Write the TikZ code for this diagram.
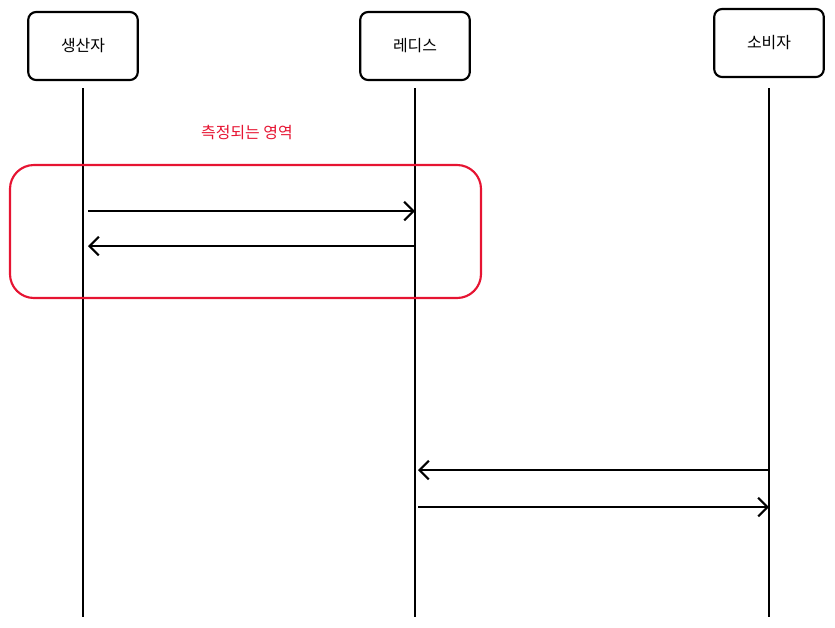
\documentclass[tikz,border=0pt]{standalone}
\usepackage{fontspec}
\setmainfont{Noto Sans CJK KR}
\usetikzlibrary{positioning}
\usetikzlibrary{arrows.meta}
\tikzset{>={Straight Barb[length=7pt,width=14pt]}}
\tikzset{actor/.style={draw,rounded corners=6pt,line width=1.6pt,minimum width=2.9cm,minimum height=1.8cm,font=\large}}
\tikzset{life/.style={line width=1.6pt}}
\tikzset{msg/.style={line width=1.6pt,->}}
\definecolor{zone}{RGB}{230,20,50}

\begin{document}
\begin{tikzpicture}[x=0.02646cm,y=-0.02646cm]
\useasboundingbox (0,0) rectangle (835,627);
\node[actor] (prod) at (83,46) {생산자};
\node[actor] (redis) at (415,46) {레디스};
\node[actor] (cons) at (769,43) {소비자};

\coordinate (prodE) at (83,617);
\coordinate (redisE) at (415,617);
\coordinate (consE) at (769,617);
\draw[life] (83,88) -- (prodE);
\draw[life] (415,88) -- (redisE);
\draw[life] (769,88) -- (consE);

% messages
\coordinate (p1) at (88,211); \coordinate (r1) at (415,211);
\coordinate (r2) at (415,246); \coordinate (p2) at (88,246);
\coordinate (c3) at (769,470); \coordinate (r3) at (418,470);
\coordinate (r4) at (418,507); \coordinate (c4) at (769,507);
\draw[msg] (p1) -- (r1);
\draw[msg] (r2) -- (p2);
\draw[msg] (c3) -- (r3);
\draw[msg] (r4) -- (c4);

\draw[zone,line width=1.6pt,rounded corners=18pt] (10,165) rectangle (481,298);
\node[text=zone,font=\large] (zlabel) at (247,133) {측정되는 영역};
\end{tikzpicture}
\end{document}
